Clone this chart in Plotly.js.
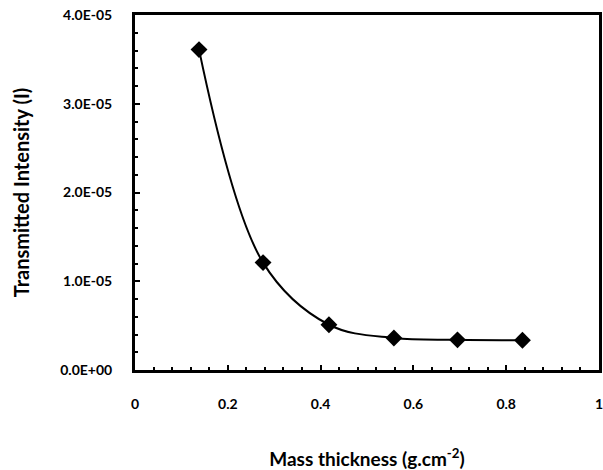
<!DOCTYPE html>
<html>
<head>
<meta charset="utf-8">
<script src="https://cdn.plot.ly/plotly-3.0.1.min.js"></script>
<style>html,body{margin:0;padding:0;background:#fff;}#chart{width:603px;height:470px;}</style>
</head>
<body>
<div id="chart"></div>
<script>
var massThickness = [0.138, 0.276, 0.418, 0.558, 0.695, 0.835];
var intensity = [3.61e-5, 1.21e-5, 0.51e-5, 0.36e-5, 0.34e-5, 0.335e-5];
var yTickVals = [0, 1e-5, 2e-5, 3e-5, 4e-5];
var yTickText = ["0.0E+00", "1.0E-05", "2.0E-05", "3.0E-05", "4.0E-05"];
var xTickVals = [0, 0.2, 0.4, 0.6, 0.8, 1];
var xTickText = ["0", "0.2", "0.4", "0.6", "0.8", "1"];

var fontFam = "Lato, 'Open Sans', sans-serif";
var trace = {
  x: massThickness, y: intensity, type: 'scatter', mode: 'lines+markers',
  line: {shape: 'spline', smoothing: 1, color: '#000', width: 2},
  marker: {symbol: 'diamond', size: 13, color: '#000'},
  showlegend: false
};
var layout = {
  width: 603, height: 470,
  margin: {l: 135, r: 4, t: 15, b: 100},
  paper_bgcolor: '#fff', plot_bgcolor: '#fff',
  font: {family: fontFam, color: '#000'},
  xaxis: {
    range: [0, 1], tickvals: xTickVals, ticktext: xTickText,
    ticks: 'inside', ticklen: 5, tickwidth: 2, tickcolor: '#000',
    minor: {dtick: 0.04, ticks: 'inside', ticklen: 3, tickwidth: 2, tickcolor: '#000'},
    showline: true, linewidth: 3, linecolor: '#000', mirror: true,
    showgrid: false, zeroline: false,
    ticklabeloverflow: 'allow',
    tickfont: {size: 14, family: fontFam, weight: 'bold'},
    ticklabelstandoff: 19,
    title: {text: 'Mass thickness (g.cm<sup>-2</sup>)', font: {size: 19, family: fontFam, weight: 'bold'}, standoff: 48}
  },
  yaxis: {
    range: [0, 4e-5], tickvals: yTickVals, ticktext: yTickText,
    ticks: 'inside', ticklen: 5, tickwidth: 2, tickcolor: '#000',
    minor: {dtick: 0.2e-5, ticks: 'inside', ticklen: 3, tickwidth: 2, tickcolor: '#000'},
    showline: true, linewidth: 3, linecolor: '#000', mirror: true,
    showgrid: false, zeroline: false,
    ticklabeloverflow: 'allow',
    tickfont: {size: 14, family: fontFam, weight: 'bold'},
    ticklabelstandoff: 17,
    title: {text: 'Transmitted Intensity (I)', font: {size: 20, family: fontFam, weight: 'bold'}, standoff: 26}
  }
};
Plotly.newPlot('chart', [trace], layout, {displayModeBar: false, staticPlot: true});
</script>
</body>
</html>
